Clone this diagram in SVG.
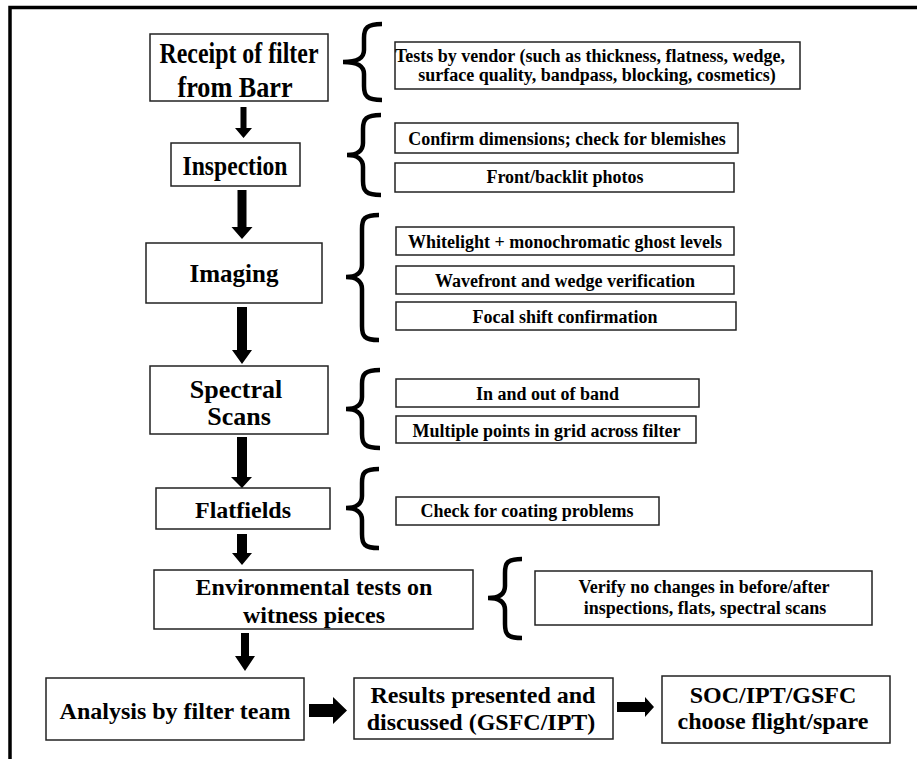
<svg xmlns="http://www.w3.org/2000/svg" width="917" height="759" viewBox="0 0 917 759">
<style>
.box{fill:#fff;stroke:#222;stroke-width:1.5}
.brace{fill:none;stroke:#000;stroke-width:4.5;stroke-linecap:butt}
.arr{fill:#000}
text{font-family:"Liberation Serif","Times New Roman",serif;font-weight:bold;fill:#000;text-anchor:middle}
.m{font-size:24px}
.s{font-size:18px}
</style>
<rect width="917" height="759" fill="#fff"/>
<path d="M10 759 V7.5 H917" fill="none" stroke="#000" stroke-width="3.5"/>

<g id="n-receipt"><rect class="box" x="150" y="34" width="178" height="67"/>
<text class="m" style="font-size:30px" x="239" y="63" textLength="159" lengthAdjust="spacingAndGlyphs">Receipt of filter</text>
<text class="m" style="font-size:30px" x="235" y="97" textLength="115" lengthAdjust="spacingAndGlyphs">from Barr</text></g>
<g id="n-tests"><rect class="box" x="395" y="42" width="405" height="47"/>
<text class="s" x="590" y="62">Tests by vendor (such as thickness, flatness, wedge,</text>
<text class="s" x="597" y="81">surface quality, bandpass, blocking, cosmetics)</text></g>

<g id="n-inspection"><rect class="box" x="171" y="143" width="129" height="43"/>
<text class="m" style="font-size:27px" x="235" y="175" textLength="105" lengthAdjust="spacingAndGlyphs">Inspection</text></g>
<g id="n-confirm"><rect class="box" x="395" y="123" width="343" height="30"/>
<text class="s" x="567" y="145">Confirm dimensions; check for blemishes</text></g>
<g id="n-front"><rect class="box" x="395" y="163" width="339" height="29"/>
<text class="s" x="565" y="183">Front/backlit photos</text></g>

<g id="n-imaging"><rect class="box" x="146" y="243" width="176" height="60"/>
<text class="m" style="font-size:25px" x="234" y="282">Imaging</text></g>
<g id="n-white"><rect class="box" x="396" y="227" width="338" height="28"/>
<text class="s" x="565" y="248">Whitelight + monochromatic ghost levels</text></g>
<g id="n-wave"><rect class="box" x="396" y="266" width="338" height="28"/>
<text class="s" x="565" y="287">Wavefront and wedge verification</text></g>
<g id="n-focal"><rect class="box" x="396" y="302" width="340" height="28"/>
<text class="s" x="565" y="323">Focal shift confirmation</text></g>

<g id="n-spectral"><rect class="box" x="150" y="366" width="178" height="68"/>
<text class="m" style="font-size:26px" x="236" y="398">Spectral</text>
<text class="m" style="font-size:26px" x="239" y="425">Scans</text></g>
<g id="n-inout"><rect class="box" x="396" y="379" width="303" height="28"/>
<text class="s" x="547.5" y="400">In and out of band</text></g>
<g id="n-multi"><rect class="box" x="396" y="416" width="300" height="27"/>
<text class="s" x="546.5" y="437">Multiple points in grid across filter</text></g>

<g id="n-flat"><rect class="box" x="156" y="488" width="174" height="41"/>
<text class="m" x="243" y="518">Flatfields</text></g>
<g id="n-check"><rect class="box" x="396" y="497" width="263" height="28"/>
<text class="s" x="527" y="517">Check for coating problems</text></g>

<g id="n-env"><rect class="box" x="154" y="570" width="319" height="59"/>
<text class="m" x="314" y="595">Environmental tests on</text>
<text class="m" x="314" y="623">witness pieces</text></g>
<g id="n-verify"><rect class="box" x="535" y="571" width="337" height="54"/>
<text class="s" x="704" y="593">Verify no changes in before/after</text>
<text class="s" x="705" y="614">inspections, flats, spectral scans</text></g>

<g id="n-analysis"><rect class="box" x="46" y="678" width="258" height="62"/>
<text class="m" x="175" y="719">Analysis by filter team</text></g>
<g id="n-results"><rect class="box" x="354" y="678" width="259" height="61"/>
<text class="m" x="483" y="703">Results presented and</text>
<text class="m" x="481" y="730">discussed (GSFC/IPT)</text></g>
<g id="n-soc"><rect class="box" x="662" y="676" width="228" height="67"/>
<text class="m" x="773" y="703">SOC/IPT/GSFC</text>
<text class="m" x="773" y="729">choose flight/spare</text></g>

<g id="connectors">
<path class="brace" d="M382 24 C367 24 364 28 364 38 L364 50 C364 58 358 62 343 62 C358 62 364 66 364 74 L364 86 C364 96 367 100 382 100"/>
<path class="brace" d="M381 115 C366 115 363 119 363 129 L363 143 C363 151 357 155 347 155 C357 155 363 159 363 167 L363 181 C363 191 366 195 381 195"/>
<path class="brace" d="M379 215 C364 215 362 219 362 229 L362 265 C362 273 356 277 346 277 C356 277 362 281 362 289 L362 326 C362 336 364 340 379 340"/>
<path class="brace" d="M380 370 C365 370 362 374 362 384 L362 397 C362 405 356 409 346 409 C356 409 362 413 362 421 L362 434 C362 444 365 448 380 448"/>
<path class="brace" d="M379 469 C364 469 362 473 362 483 L362 496 C362 504 356 508 346 508 C356 508 362 512 362 520 L362 534 C362 544 364 548 379 548"/>
<path class="brace" d="M522 559 C507 559 505 563 505 573 L505 586 C505 594 499 598 488 598 C499 598 505 602 505 610 L505 624 C505 634 507 638 522 638"/>

<polygon class="arr" points="240.5,107 246.5,107 246.5,128 252,128 243.5,138 235,128 240.5,128"/>
<polygon class="arr" points="237.5,190 246.5,190 246.5,227 252.5,227 242,239 231.5,227 237.5,227"/>
<polygon class="arr" points="237,307 247,307 247,350 252,350 242,364 232,350 237,350"/>
<polygon class="arr" points="237,437 247,437 247,477 252,477 242,488 231,477 237,477"/>
<polygon class="arr" points="237,534 247,534 247,553 252,553 242,565 232,553 237,553"/>
<polygon class="arr" points="241,633 249,633 249,656 255,656 245,671 235,656 241,656"/>
<polygon class="arr" points="309,704 333,704 333,697 347,710.5 333,724 333,717 309,717"/>
<polygon class="arr" points="617,702 645,702 645,697 654,707 645,717 645,712 617,712"/>
</g>
</svg>
